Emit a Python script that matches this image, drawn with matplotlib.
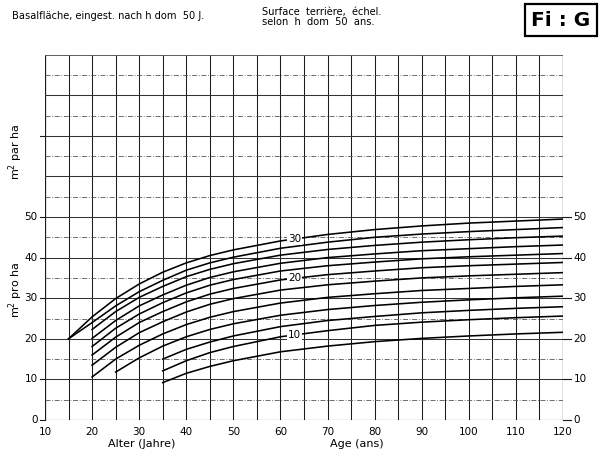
import numpy as np
import matplotlib
matplotlib.use("Agg")
import matplotlib.pyplot as plt

# Age (years) at which each curve value is given
ages = [15, 20, 25, 30, 35, 40, 45, 50, 60, 70, 80, 90, 100, 110, 120]
N = None

# Basal area (m2/ha) for each site class h dom 50 (m), top curve first
g_30 = [20.0, 25.4, 29.9, 33.5, 36.4, 38.7, 40.5, 41.9, 44.1, 45.7, 46.9, 47.8, 48.5, 49.0, 49.5]
g_28 = [20.0, 24.0, 28.1, 31.6, 34.4, 36.9, 38.7, 40.1, 42.3, 43.8, 45.0, 45.8, 46.4, 46.9, 47.4]
g_26 = [N, 22.3, 26.7, 30.2, 32.9, 35.3, 37.1, 38.5, 40.6, 42.0, 43.0, 43.8, 44.4, 44.9, 45.3]
g_24 = [N, 20.1, 24.5, 28.1, 30.8, 33.2, 35.1, 36.5, 38.6, 40.0, 40.9, 41.7, 42.2, 42.7, 43.1]
g_22 = [N, 18.1, 22.6, 26.1, 28.9, 31.3, 33.2, 34.6, 36.7, 38.0, 38.9, 39.7, 40.2, 40.6, 41.0]
g_20 = [N, 16.0, 20.4, 24.0, 26.7, 29.1, 31.0, 32.4, 34.5, 35.8, 36.7, 37.5, 38.0, 38.4, 38.8]
g_18 = [N, 13.5, 17.9, 21.5, 24.2, 26.6, 28.5, 29.9, 32.0, 33.3, 34.2, 35.0, 35.5, 35.9, 36.3]
g_16 = [N, 10.6, 15.0, 18.4, 21.2, 23.5, 25.3, 26.7, 28.8, 30.2, 31.1, 31.9, 32.4, 32.9, 33.3]
g_14 = [N, N, 11.8, 15.3, 18.2, 20.5, 22.3, 23.7, 25.8, 27.2, 28.2, 29.0, 29.6, 30.1, 30.5]
g_12 = [N, N, N, N, 15.0, 17.4, 19.2, 20.7, 23.0, 24.5, 25.5, 26.4, 27.0, 27.5, 27.9]
g_10 = [N, N, N, N, 12.1, 14.6, 16.6, 18.1, 20.5, 22.0, 23.3, 24.1, 24.7, 25.2, 25.6]
g_8 = [N, N, N, N, 9.2, 11.5, 13.2, 14.6, 16.8, 18.2, 19.3, 20.1, 20.7, 21.2, 21.6]

curves = [g_30, g_28, g_26, g_24, g_22, g_20, g_18, g_16, g_14, g_12, g_10, g_8]
curve_labels = {0: "30", 5: "20", 10: "10"}
label_age = 63

x_ticks = [10, 20, 30, 40, 50, 60, 70, 80, 90, 100, 110, 120]
y_ticks = [0, 10, 20, 30, 40, 50]

W, H = 610, 455
fig = plt.figure(figsize=(W / 100, H / 100), dpi=100)
fig.patch.set_facecolor("white")

x0, x1 = 45, 563
y0, y1 = 420, 54.6
ax = fig.add_axes([x0 / W, 1 - y0 / H, (x1 - x0) / W, (y0 - y1) / H])
ax.set_xlim(10, 120)
ax.set_ylim(0, 90)
for s in ax.spines.values():
    s.set_visible(False)

ink = "#1a1a1a"

# grid: verticals every 5 years, horizontals every 10 (solid) and 5 (dash-dot)
for xv in range(10, 121, 5):
    ax.plot([xv, xv], [0, 90], color=ink, lw=0.9 if xv in (10, 120) else 0.75,
            solid_capstyle="butt", zorder=1)
for yv in range(10, 81, 10):
    ax.plot([10, 120], [yv, yv], color="#333333", lw=0.75, zorder=1)
for yv in range(5, 86, 10):
    ax.plot([10, 120], [yv, yv], color="#555555", lw=0.6, ls=(0, (6, 2, 1, 2)), zorder=1)
ax.plot([10, 120], [0, 0], color=ink, lw=0.8, zorder=1)
ax.plot([10, 120], [90, 90], color="#444444", lw=0.6, zorder=1)

# basal area curves
a = np.array(ages, dtype=float)
for i, c in enumerate(curves):
    v = np.array([np.nan if q is None else q for q in c], dtype=float)
    m = ~np.isnan(v)
    ax.plot(a[m], v[m], color="black", lw=1.15, zorder=3)
    if i in curve_labels:
        yl = np.interp(label_age, a[m], v[m])
        ax.text(label_age, yl, curve_labels[i], fontsize=7.5, ha="center", va="center",
                color="black", zorder=4,
                bbox=dict(boxstyle="square,pad=0.12", fc="white", ec="none"))

# ticks and tick labels
ax.set_xticks([])
ax.set_yticks([])
for t in y_ticks:
    ax.plot([8.9, 10], [t, t], color=ink, lw=0.8, clip_on=False)
    ax.text(8.4, t, str(t), fontsize=7.5, ha="right", va="center")
    ax.plot([120, 121.6], [t, t], color=ink, lw=0.8, clip_on=False)
    ax.text(122.2, t, str(t), fontsize=7.5, ha="left", va="center")
ax.plot([8.9, 10], [70, 70], color=ink, lw=0.8, clip_on=False)
for t in x_ticks:
    ax.text(t, -2.9, str(t), fontsize=7.5, ha="center", va="center")

# axis titles
fig.text(142 / W, 1 - 444 / H, "Alter (Jahre)", fontsize=8, ha="center", va="center")
fig.text(357 / W, 1 - 444 / H, "Age (ans)", fontsize=8, ha="center", va="center")
fig.text(16 / W, 1 - 290 / H, "m$^2$ pro ha", fontsize=8, ha="center", va="center", rotation=90)
fig.text(16 / W, 1 - 152 / H, "m$^2$ par ha", fontsize=8, ha="center", va="center", rotation=90)

# header
fig.text(12 / W, 1 - 16 / H, "Basalfläche, eingest. nach h dom  50 J.", fontsize=7.1,
         ha="left", va="center")
fig.text(262 / W, 1 - 17 / H, "Surface  terrière,  échel.\nselon  h  dom  50  ans.",
         fontsize=7.1, ha="left", va="center", linespacing=0.95)
fig.text(561 / W, 1 - 20 / H, "Fi : G", fontsize=14.5, fontweight="bold", ha="center",
         va="center",
         bbox=dict(boxstyle="square,pad=0.3", fc="white", ec="black", lw=1.6))

fig.savefig("out.png", dpi=100, facecolor="white")
